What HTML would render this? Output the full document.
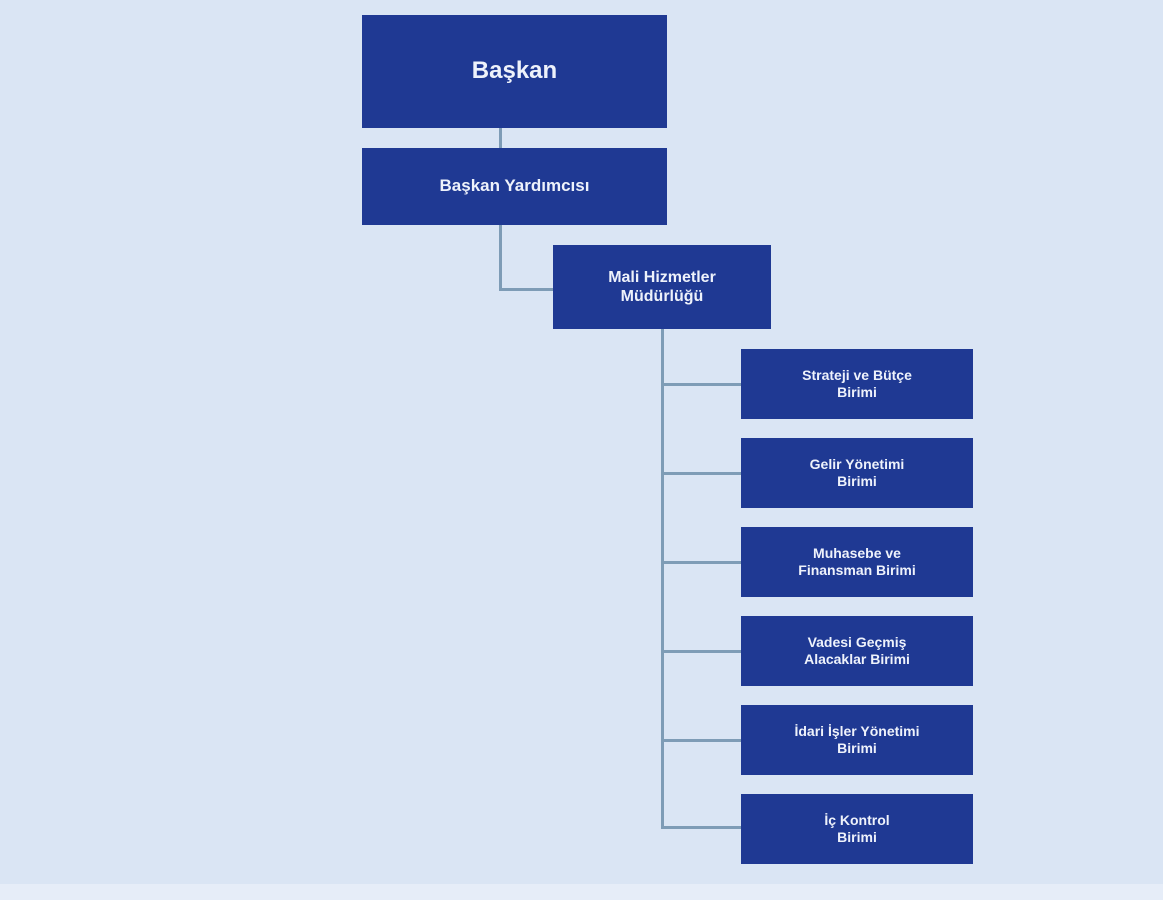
<!DOCTYPE html>
<html><head><meta charset="utf-8"><style>
body{margin:0;width:1163px;height:900px;background:#dae5f4;position:relative;overflow:hidden;font-family:"Liberation Sans",sans-serif;}
.b{position:absolute;background:#1f3993;color:#eef2fb;font-weight:bold;display:flex;align-items:center;justify-content:center;text-align:center;line-height:1.2;box-sizing:border-box;}
.l{position:absolute;background:#7e9cb6;}
.c{left:741px;width:232px;height:70px;font-size:14px;}
</style></head><body>
<div style="position:absolute;left:0;top:884px;width:1163px;height:16px;background:#e6edf8"></div>
<div class="l" style="left:499px;top:128px;width:3px;height:20px"></div>
<div class="l" style="left:499px;top:225px;width:3px;height:66px"></div>
<div class="l" style="left:499px;top:288px;width:54px;height:3px"></div>
<div class="l" style="left:661px;top:329px;width:3px;height:500px"></div>
<div class="l" style="left:661px;top:383px;width:80px;height:3px"></div>
<div class="l" style="left:661px;top:472px;width:80px;height:3px"></div>
<div class="l" style="left:661px;top:561px;width:80px;height:3px"></div>
<div class="l" style="left:661px;top:650px;width:80px;height:3px"></div>
<div class="l" style="left:661px;top:739px;width:80px;height:3px"></div>
<div class="l" style="left:661px;top:826px;width:80px;height:3px"></div>
<div class="b" style="left:362px;top:15px;width:305px;height:113px;font-size:24px">Başkan</div>
<div class="b" style="left:362px;top:148px;width:305px;height:77px;font-size:17px">Başkan Yardımcısı</div>
<div class="b" style="left:553px;top:245px;width:218px;height:84px;font-size:16px">Mali Hizmetler<br>Müdürlüğü</div>
<div class="b c" style="top:349px">Strateji ve Bütçe<br>Birimi</div>
<div class="b c" style="top:438px">Gelir Yönetimi<br>Birimi</div>
<div class="b c" style="top:527px">Muhasebe ve<br>Finansman Birimi</div>
<div class="b c" style="top:616px">Vadesi Geçmiş<br>Alacaklar Birimi</div>
<div class="b c" style="top:705px">İdari İşler Yönetimi<br>Birimi</div>
<div class="b c" style="top:794px">İç Kontrol<br>Birimi</div>
</body></html>
